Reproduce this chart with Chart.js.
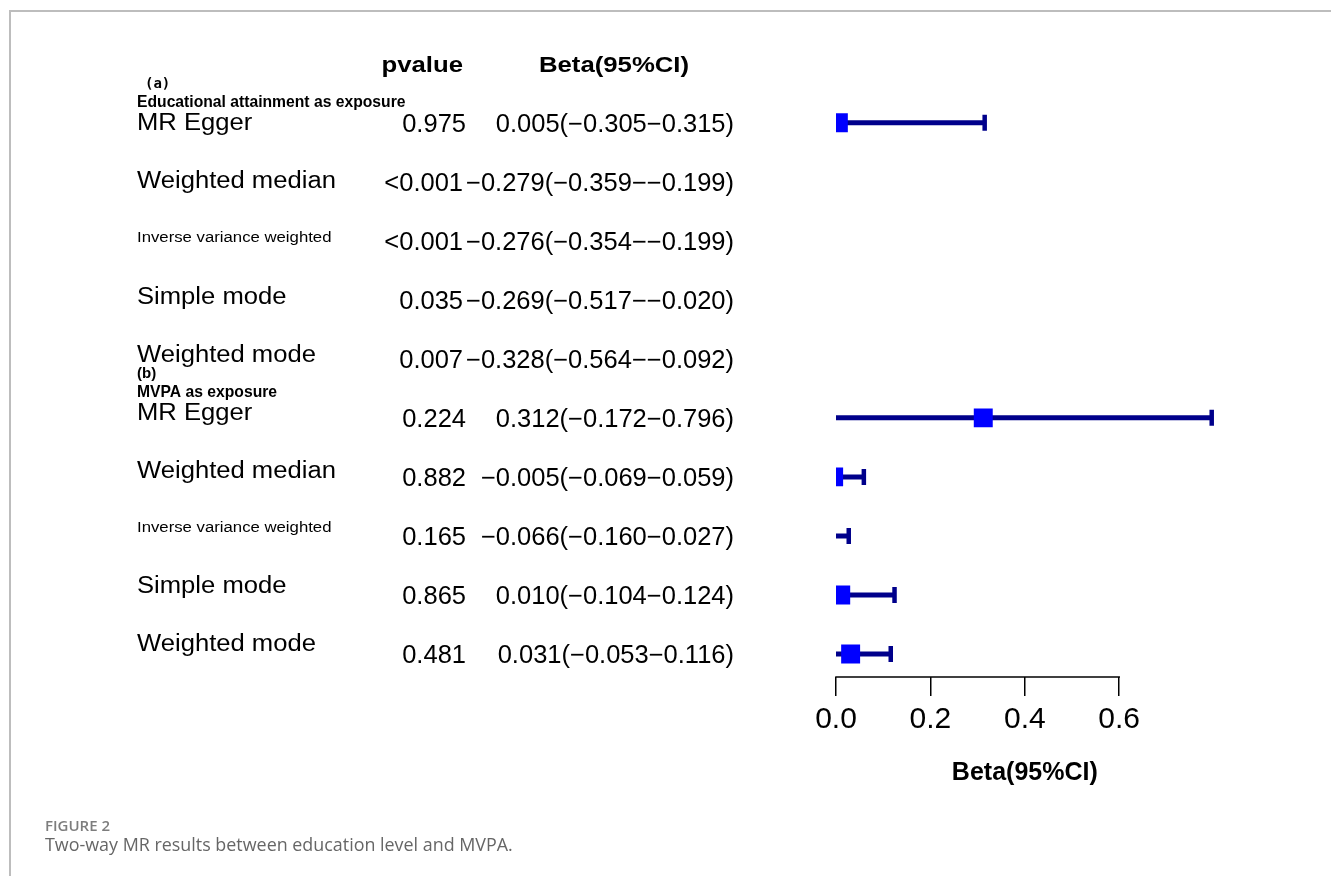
<!DOCTYPE html>
<html>
<head>
<meta charset="utf-8">
<script src="https://cdn.jsdelivr.net/npm/chart.js@4"></script>
<style>
  html, body { margin: 0; padding: 0; background: #fff; }
  body { width: 1331px; height: 876px; position: relative; overflow: hidden; }
  #frame { position: absolute; left: 9px; top: 10px; right: 0; bottom: 0;
           border-top: 2px solid #bdbdbd; border-left: 2px solid #bdbdbd; }
  #chart { position: absolute; left: 0; top: 0; }
  .cap { position: absolute; left: 45px; font-family: "Open Sans", sans-serif; white-space: nowrap; }
  #figno { top: 818px; font-size: 15px; line-height: 15px; font-weight: 600; color: #7d7d7d; }
  #figtxt { top: 835px; font-size: 17.9px; line-height: 18px; color: #666; }
</style>
</head>
<body>
<div id="frame"></div>
<canvas id="chart" width="1331" height="876"></canvas>
<div class="cap" id="figno">FIGURE 2</div>
<div class="cap" id="figtxt">Two-way MR results between education level and MVPA.</div>
<script>
// two exposure groups, five MR methods each
const groups = ['Educational attainment as exposure', 'MVPA as exposure'];
const groupTags = ['(a)', '(b)'];
const methods = ['MR Egger', 'Weighted median', 'Inverse variance weighted', 'Simple mode', 'Weighted mode'];

const pvalues = ['0.975', '<0.001', '<0.001', '0.035', '0.007',
                 '0.224', '0.882', '0.165', '0.865', '0.481'];
const beta  = [0.005, -0.279, -0.276, -0.269, -0.328, 0.312, -0.005, -0.066, 0.010, 0.031];
const lower = [-0.305, -0.359, -0.354, -0.517, -0.564, -0.172, -0.069, -0.160, -0.104, -0.053];
const upper = [0.315, -0.199, -0.199, -0.020, -0.092, 0.796, 0.059, 0.027, 0.124, 0.116];

const xTicks = [0, 0.2, 0.4, 0.6];

const rows = beta.map((b, i) => i);
const fmt = v => (v < 0 ? '\u2212' : '') + Math.abs(v).toFixed(3);

const SANS = 'Liberation Sans, Arial, sans-serif';
const NAVY = '#00008b';

function txt(ctx, s, x, y, font, align, sx) {
  ctx.save();
  ctx.font = font;
  ctx.textAlign = align;
  ctx.textBaseline = 'alphabetic';
  ctx.fillStyle = '#000';
  ctx.translate(x, y);
  ctx.scale(sx || 1, 1);
  ctx.fillText(s, 0, 0);
  ctx.restore();
}

// left-hand table and the shortened axis line
const tablePlugin = {
  id: 'table',
  afterDraw(chart) {
    const ctx = chart.ctx;
    const xs = chart.scales.x, ys = chart.scales.y;
    const y0 = ys.getPixelForValue(0);

    txt(ctx, 'pvalue', 463, y0 - 50.5, 'bold 22px ' + SANS, 'right', 1.17);
    txt(ctx, 'Beta(95%CI)', 614, y0 - 50.5, 'bold 22px ' + SANS, 'center', 1.17);

    rows.forEach(i => {
      const yc = ys.getPixelForValue(i);
      const drift = -1.06 * i;
      const m = methods[i % methods.length];

      if (i % methods.length === 0) {
        const g = i / methods.length;
        if (g === 0) txt(ctx, groupTags[g], 145, yc - 35 + drift, 'bold 14px DejaVu Sans Mono, monospace', 'left');
        else txt(ctx, groupTags[g], 137, yc - 35 + drift, 'bold 15px ' + SANS, 'left');
        txt(ctx, groups[g], 137, yc - 16 + drift, 'bold 15.7px ' + SANS, 'left');
      }

      if (m === 'Inverse variance weighted')
        txt(ctx, m, 137, yc + 3 + drift, '15.5px ' + SANS, 'left', 1.08);
      else
        txt(ctx, m, 137, yc + 7 + drift, '23.5px ' + SANS, 'left', 1.09);

      const bs = fmt(beta[i]) + '(' + fmt(lower[i]) + '\u2212' + fmt(upper[i]) + ')';
      ctx.font = '25.5px ' + SANS;
      const bw = ctx.measureText(bs).width;
      const right = 734;
      txt(ctx, bs, right, yc + 9, '25.5px ' + SANS, 'right');
      const pr = Math.min(466, right - bw - 3);
      txt(ctx, pvalues[i], pr, yc + 9, '25.5px ' + SANS, 'right');
    });

    const ab = chart.chartArea.bottom;
    ctx.save();
    ctx.strokeStyle = '#000';
    ctx.lineWidth = 1.5;
    ctx.beginPath();
    ctx.moveTo(xs.getPixelForValue(xTicks[0]) - 0.75, ab);
    ctx.lineTo(xs.getPixelForValue(xTicks[xTicks.length - 1]) + 0.75, ab);
    ctx.stroke();
    ctx.restore();
  }
};

const clipArea = { left: 0, right: 8, top: 10, bottom: 10 };

const boxes = {
  type: 'scatter',
  data: rows.map(i => ({ x: beta[i], y: i })),
  pointStyle: 'rect',
  pointRadius: 13.4,
  pointBorderWidth: 0,
  backgroundColor: '#0000ff',
  borderColor: '#0000ff',
  clip: clipArea
};

const ciLines = rows.map(i => ({
  type: 'line',
  data: [{ x: lower[i], y: i }, { x: upper[i], y: i }],
  borderColor: NAVY,
  borderWidth: 5,
  pointStyle: 'line',
  pointRotation: 90,
  pointRadius: 8,
  pointBorderWidth: 4.5,
  pointBorderColor: NAVY,
  pointBackgroundColor: NAVY,
  clip: clipArea
}));

new Chart(document.getElementById('chart'), {
  type: 'scatter',
  data: { datasets: [boxes].concat(ciLines) },
  options: {
    responsive: false,
    animation: false,
    devicePixelRatio: 1,
    layout: { padding: { left: 836, right: 117.4, top: 63.7, bottom: 88 } },
    plugins: { legend: { display: false }, tooltip: { enabled: false } },
    scales: {
      x: {
        type: 'linear',
        min: 0,
        max: 0.8,
        afterBuildTicks: s => { s.ticks = xTicks.map(v => ({ value: v })); },
        border: { display: false },
        grid: { display: true, drawOnChartArea: false, drawTicks: true, tickLength: 19, color: '#000', lineWidth: 1.5 },
        ticks: { padding: 6, color: '#000', font: { family: SANS, size: 30 }, callback: v => v.toFixed(1) },
        title: { display: true, text: 'Beta(95%CI)', color: '#000', font: { family: SANS, size: 25, weight: 'bold' }, padding: { top: 14, bottom: 0 } }
      },
      y: { type: 'linear', display: false, reverse: true, min: -1, max: 9.39 }
    }
  },
  plugins: [tablePlugin]
});
</script>
</body>
</html>
